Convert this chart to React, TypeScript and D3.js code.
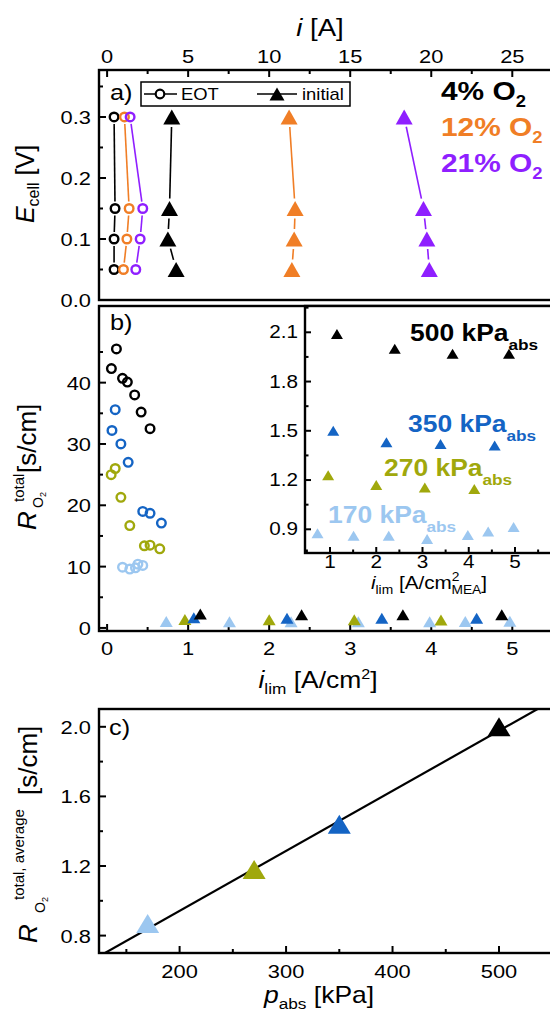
import React from "react";
import * as d3 from "d3";

const FONT = "'Liberation Sans', Arial, Helvetica, sans-serif";
const SX = 1.15;

// ---------- colours ----------
const C_BLACK = "#000000";
const C_ORANGE = "#F07E26";
const C_PURPLE = "#8F1FFF";
const C_BLUE = "#1464C4";
const C_OLIVE = "#A0A80C";
const C_LBLUE = "#9CC7F0";

// ---------- panel a data ----------
const ecellV = [0.3, 0.15, 0.1, 0.05];
const eotI4 = [0.43, 0.49, 0.43, 0.43];
const eotI12 = [1.07, 1.36, 1.22, 1.01];
const eotI21 = [1.42, 2.2, 2.04, 1.77];
const initI4 = [3.99, 3.85, 3.75, 4.26];
const initI12 = [11.23, 11.6, 11.54, 11.4];
const initI21 = [18.33, 19.52, 19.73, 19.88];
const aTopTicks = [0, 5, 10, 15, 20, 25];
const aYTicks = [0.0, 0.1, 0.2, 0.3];
const o2Labels = ["4%", "12%", "21%"];

// ---------- panel b data (EOT circles) ----------
const eot500I = [0.115, 0.053, 0.19, 0.25, 0.34, 0.42, 0.53];
const eot500R = [45.5, 42.3, 40.7, 40.1, 38.0, 35.2, 32.5];
const eot350I = [0.1, 0.06, 0.17, 0.26, 0.44, 0.53, 0.67];
const eot350R = [35.6, 32.2, 30.0, 27.0, 19.0, 18.7, 17.1];
const eot270I = [0.05, 0.1, 0.17, 0.28, 0.46, 0.53, 0.65];
const eot270R = [25.0, 26.0, 21.3, 16.7, 13.4, 13.5, 12.9];
const eot170I = [0.19, 0.28, 0.35, 0.38, 0.44];
const eot170R = [9.9, 9.6, 9.8, 10.4, 10.2];

// ---------- panel b data (initial triangles) ----------
const init500I = [1.15, 2.4, 3.65, 4.87];
const init500R = [2.09, 2.0, 1.97, 1.97];
const init350I = [1.07, 2.22, 3.39, 4.56];
const init350R = [1.5, 1.43, 1.42, 1.41];
const init270I = [0.96, 2.0, 3.05, 4.12];
const init270R = [1.23, 1.17, 1.155, 1.145];
const init170I = [0.73, 1.51, 2.27, 3.1, 3.98, 4.42, 4.97];
const init170R = [0.876, 0.86, 0.86, 0.841, 0.865, 0.886, 0.914];
const bXTicks = [0, 1, 2, 3, 4, 5];
const bYTicks = [0, 10, 20, 30, 40];
const insetXTicks = [1, 2, 3, 4, 5];
const insetYTicks = [0.9, 1.2, 1.5, 1.8, 2.1];
const pressureLabels = ["500", "350", "270", "170"];

// ---------- panel c data ----------
const pAbs = [170, 270, 350, 500];
const rAvg = [0.87, 1.18, 1.44, 2.0];
const fitSlope = 0.00345;
const fitIntercept = 0.252;
const cXTicks = [200, 300, 400, 500];
const cYTicks = [0.8, 1.2, 1.6, 2.0];

// ---------- layout ----------
const L = 99;
const R = 553;
const A_TOP = 70, A_BOT = 300;
const B_TOP = 306, B_BOT = 631;
const IN_L = 305, IN_BOT = 553;
const C_TOP = 709, C_BOT = 953;

const xA = d3.scaleLinear().domain([-0.5, 27.45]).range([L, R - 1]);
const yA = d3.scaleLinear().domain([0, 0.377]).range([A_BOT, A_TOP]);
const xB = d3.scaleLinear().domain([-0.1, 5.49]).range([L, R - 1]);
const yB = d3.scaleLinear().domain([-0.5, 52.5]).range([B_BOT, B_TOP]);
const xIn = d3.scaleLinear().domain([1, 5]).range([330, 515]);
const yIn = d3.scaleLinear().domain([0.9, 2.1]).range([529.3, 332.3]);
const xC = d3.scaleLinear().domain([200, 500]).range([179.6, 499]);
const yC = d3.scaleLinear().domain([0.8, 2.0]).range([935.6, 726.8]);

const tri = (cx: number, cy: number, w: number, h: number) =>
  `M${cx},${cy - h / 2}L${cx + w / 2},${cy + h / 2}L${cx - w / 2},${cy + h / 2}Z`;

function T(props: any) {
  const { x, y, size = 19, weight = "normal", fill = "#000", anchor = "start", rotate, style, children } = props;
  const sx = props.sx ?? SX;
  return (
    <text
      transform={`translate(${x},${y}) scale(${sx},1)${rotate ? ` rotate(${rotate})` : ""}`}
      fontSize={size}
      fontWeight={weight}
      fill={fill}
      textAnchor={anchor}
      fontFamily={FONT}
      fontStyle={style}
    >
      {children}
    </text>
  );
}

function gapLines(pts: [number, number][], gap: number, color: string, key: string) {
  const out: any[] = [];
  for (let i = 0; i < pts.length - 1; i++) {
    const [x1, y1] = pts[i];
    const [x2, y2] = pts[i + 1];
    const dx = x2 - x1, dy = y2 - y1;
    const len = Math.hypot(dx, dy);
    if (len <= 2 * gap) continue;
    const ux = dx / len, uy = dy / len;
    out.push(
      <line key={`${key}-${i}`} x1={x1 + ux * gap} y1={y1 + uy * gap} x2={x2 - ux * gap} y2={y2 - uy * gap}
        stroke={color} strokeWidth={1.6} />
    );
  }
  return out;
}

const AX = 2.4;

export default function App() {
  const eotSets = [
    { i: eotI4, c: C_BLACK },
    { i: eotI12, c: C_ORANGE },
    { i: eotI21, c: C_PURPLE },
  ];
  const initSets = [
    { i: initI4, c: C_BLACK },
    { i: initI12, c: C_ORANGE },
    { i: initI21, c: C_PURPLE },
  ];
  const bEot = [
    { i: eot500I, r: eot500R, c: C_BLACK },
    { i: eot350I, r: eot350R, c: C_BLUE },
    { i: eot270I, r: eot270R, c: C_OLIVE },
    { i: eot170I, r: eot170R, c: C_LBLUE },
  ];
  const bInit = [
    { i: init170I, r: init170R, c: C_LBLUE },
    { i: init270I, r: init270R, c: C_OLIVE },
    { i: init350I, r: init350R, c: C_BLUE },
    { i: init500I, r: init500R, c: C_BLACK },
  ];
  const cColors = [C_LBLUE, C_OLIVE, C_BLUE, C_BLACK];
  const pColors = [C_BLACK, C_BLUE, C_OLIVE, C_LBLUE];
  const pLabelPos = [
    { x: 410, y: 341 },
    { x: 408, y: 432 },
    { x: 384, y: 476 },
    { x: 328, y: 523 },
  ];
  const o2Colors = [C_BLACK, C_ORANGE, C_PURPLE];
  const o2Y = [100, 136, 172];

  const minorA = d3.range(2.5, 27.5, 5);
  const minorAY = d3.range(0.05, 0.37, 0.1);
  const minorBX = d3.range(0.5, 5.5, 1);
  const minorBY = d3.range(5, 52, 10);
  const minorInX = [0.5, 1.5, 2.5, 3.5, 4.5, 5.5];
  const minorInY = [1.05, 1.35, 1.65, 1.95, 2.25];
  const minorCX = [150, 250, 350, 450, 550];
  const minorCY = [1.0, 1.4, 1.8];

  const fitX0 = 124, fitX1 = 550;

  return (
    <svg width={550} height={1012} style={{ position: "absolute", left: 0, top: 0 }} fontFamily={FONT}>
      <rect x={0} y={0} width={550} height={1012} fill="#fff" />

      {/* ================= PANEL A ================= */}
      <T x={320} y={36} size={24} anchor="middle"><tspan fontStyle="italic">i</tspan> [A]</T>
      {aTopTicks.map((t) => (
        <g key={`at${t}`}>
          <line x1={xA(t)} x2={xA(t)} y1={A_TOP} y2={A_TOP + 7} stroke="#000" strokeWidth={2} />
          <T x={xA(t)} y={63} anchor="middle">{t}</T>
        </g>
      ))}
      {minorA.map((t) => (
        <line key={`am${t}`} x1={xA(t)} x2={xA(t)} y1={A_TOP} y2={A_TOP + 4} stroke="#000" strokeWidth={2} />
      ))}
      {aYTicks.map((t) => (
        <g key={`ay${t}`}>
          <line x1={L} x2={L + 7} y1={yA(t)} y2={yA(t)} stroke="#000" strokeWidth={2} />
          <T x={91} y={yA(t) + 7} anchor="end">{t.toFixed(1)}</T>
        </g>
      ))}
      {minorAY.map((t) => (
        <line key={`aym${t}`} x1={L} x2={L + 4} y1={yA(t)} y2={yA(t)} stroke="#000" strokeWidth={2} />
      ))}
      <rect x={L} y={A_TOP} width={R - L} height={A_BOT - A_TOP} fill="none" stroke="#000" strokeWidth={AX} />
      <g transform={`translate(34,${184}) rotate(-90)`}>
        <text fontSize={25} textAnchor="middle" fontFamily={FONT}>
          <tspan fontStyle="italic">E</tspan>
          <tspan fontSize={16} dy={5}>cell</tspan>
          <tspan dy={-5}> [V]</tspan>
        </text>
      </g>
      <T x={110} y={100} size={22}>a)</T>
      {/* legend */}
      <rect x={141} y={82} width={209} height={24} fill="#fff" stroke="#000" strokeWidth={1.5} />
      <line x1={144} x2={177} y1={94} y2={94} stroke="#000" strokeWidth={1.6} />
      <circle cx={160} cy={94} r={4.3} fill="#fff" stroke="#000" strokeWidth={2.2} />
      <T x={181} y={100} size={16}>EOT</T>
      <line x1={257} x2={297} y1={94} y2={94} stroke="#000" strokeWidth={1.6} />
      <path d={tri(277, 94, 15, 13)} fill="#000" />
      <T x={302} y={100} size={16}>initial</T>
      {o2Labels.map((lab, k) => (
        <text key={`o2${k}`} transform={`translate(441,${o2Y[k]}) scale(${SX},1)`} fontSize={26}
          fontWeight="bold" fill={o2Colors[k]} fontFamily={FONT}>
          {lab} O<tspan fontSize={16} dy={7}>2</tspan>
        </text>
      ))}
      {eotSets.map((s, k) => {
        const pts = s.i.map((v, j) => [xA(v), yA(ecellV[j])] as [number, number]);
        return (
          <g key={`eot${k}`}>
            {gapLines(pts, 7, s.c, `el${k}`)}
            {pts.map((p, j) => (
              <circle key={j} cx={p[0]} cy={p[1]} r={4.3} fill="none" stroke={s.c} strokeWidth={2.4} />
            ))}
          </g>
        );
      })}
      {initSets.map((s, k) => {
        const pts = s.i.map((v, j) => [xA(v), yA(ecellV[j])] as [number, number]);
        return (
          <g key={`ini${k}`}>
            {gapLines(pts, 10, s.c, `il${k}`)}
            {pts.map((p, j) => (
              <path key={j} d={tri(p[0], p[1], 17, 15)} fill={s.c} />
            ))}
          </g>
        );
      })}

      {/* ================= PANEL B ================= */}
      {bXTicks.map((t) => (
        <g key={`bx${t}`}>
          <line x1={xB(t)} x2={xB(t)} y1={B_BOT} y2={B_BOT - 7} stroke="#000" strokeWidth={2} />
          <T x={xB(t)} y={655} anchor="middle">{t}</T>
        </g>
      ))}
      {minorBX.map((t) => (
        <line key={`bxm${t}`} x1={xB(t)} x2={xB(t)} y1={B_BOT} y2={B_BOT - 4} stroke="#000" strokeWidth={2} />
      ))}
      {bYTicks.map((t) => (
        <g key={`by${t}`}>
          <line x1={L} x2={L + 7} y1={yB(t)} y2={yB(t)} stroke="#000" strokeWidth={2} />
          <T x={91} y={yB(t) + 7} anchor="end">{t}</T>
        </g>
      ))}
      {minorBY.map((t) => (
        <line key={`bym${t}`} x1={L} x2={L + 4} y1={yB(t)} y2={yB(t)} stroke="#000" strokeWidth={2} />
      ))}
      <rect x={L} y={B_TOP} width={R - L} height={B_BOT - B_TOP} fill="none" stroke="#000" strokeWidth={AX} />
      <T x={110} y={330} size={22}>b)</T>
      <T x={318} y={688} size={23} anchor="middle">
        <tspan fontStyle="italic">i</tspan><tspan fontSize={15} dy={6}>lim</tspan><tspan dy={-6}> [A/cm</tspan>
        <tspan fontSize={14} dy={-9}>2</tspan><tspan dy={9}>]</tspan>
      </T>
      <g transform={`translate(36,${530}) rotate(-90)`}>
        <text fontSize={26} fontFamily={FONT} fontStyle="italic" x={0} y={0}>R</text>
        <text fontSize={15} fontFamily={FONT} x={28} y={-12}>total</text>
        <text fontSize={14} fontFamily={FONT} x={22} y={7}>O<tspan fontSize={9} dy={3}>2</tspan></text>
        <text fontSize={26} fontFamily={FONT} x={57} y={0}>[s/cm]</text>
      </g>
      {bEot.map((s, k) => (
        <g key={`be${k}`}>
          {s.i.map((v, j) => (
            <circle key={j} cx={xB(v)} cy={yB(s.r[j])} r={4.3} fill="none" stroke={s.c} strokeWidth={2.4} />
          ))}
        </g>
      ))}
      {bInit.map((s, k) => (
        <g key={`bi${k}`}>
          {s.i.map((v, j) => (
            <path key={j} d={tri(xB(v), yB(s.r[j]) - 1, 13, 11)} fill={s.c} />
          ))}
        </g>
      ))}

      {/* inset */}
      <rect x={IN_L} y={B_TOP} width={R - IN_L} height={IN_BOT - B_TOP} fill="#fff" stroke="#000" strokeWidth={AX} />
      {insetXTicks.map((t) => (
        <g key={`ix${t}`}>
          <line x1={xIn(t)} x2={xIn(t)} y1={IN_BOT} y2={IN_BOT - 6} stroke="#000" strokeWidth={2} />
          <T x={xIn(t)} y={568} anchor="middle" size={18}>{t}</T>
        </g>
      ))}
      {minorInX.map((t) => (
        <line key={`ixm${t}`} x1={xIn(t)} x2={xIn(t)} y1={IN_BOT} y2={IN_BOT - 3.5} stroke="#000" strokeWidth={2} />
      ))}
      {insetYTicks.map((t) => (
        <g key={`iy${t}`}>
          <line x1={IN_L} x2={IN_L + 6} y1={yIn(t)} y2={yIn(t)} stroke="#000" strokeWidth={2} />
          <T x={298} y={yIn(t) + 6} anchor="end" size={18}>{t.toFixed(1)}</T>
        </g>
      ))}
      {minorInY.map((t) => (
        <line key={`iym${t}`} x1={IN_L} x2={IN_L + 3.5} y1={yIn(t)} y2={yIn(t)} stroke="#000" strokeWidth={2} />
      ))}
      <T x={429} y={589} size={18} anchor="middle">
        <tspan fontStyle="italic">i</tspan><tspan fontSize={12} dy={5}>lim</tspan><tspan dy={-5}> [A/cm</tspan>
        <tspan fontSize={12} dy={-8}>2</tspan><tspan fontSize={12} dx={-7} dy={13}>MEA</tspan><tspan dy={-5}>]</tspan>
      </T>
      {bInit.map((s, k) => (
        <g key={`ii${k}`}>
          {s.i.map((v, j) => (
            <path key={j} d={tri(xIn(v), yIn(s.r[j]), 12, 10)} fill={s.c} />
          ))}
        </g>
      ))}
      {pressureLabels.map((lab, k) => (
        <text key={`pl${k}`} transform={`translate(${pLabelPos[k].x},${pLabelPos[k].y}) scale(${SX},1)`}
          fontSize={23} fontWeight="bold" fill={pColors[k]} fontFamily={FONT}>
          {lab} kPa<tspan fontSize={15} dy={9}>abs</tspan>
        </text>
      ))}

      {/* ================= PANEL C ================= */}
      {cXTicks.map((t) => (
        <g key={`cx${t}`}>
          <line x1={xC(t)} x2={xC(t)} y1={C_BOT} y2={C_BOT - 7} stroke="#000" strokeWidth={2} />
          <T x={xC(t)} y={978} anchor="middle">{t}</T>
        </g>
      ))}
      {minorCX.map((t) => (
        <line key={`cxm${t}`} x1={xC(t)} x2={xC(t)} y1={C_BOT} y2={C_BOT - 4} stroke="#000" strokeWidth={2} />
      ))}
      {cYTicks.map((t) => (
        <g key={`cy${t}`}>
          <line x1={L} x2={L + 7} y1={yC(t)} y2={yC(t)} stroke="#000" strokeWidth={2} />
          <T x={91} y={yC(t) + 7} anchor="end">{t.toFixed(1)}</T>
        </g>
      ))}
      {minorCY.map((t) => (
        <line key={`cym${t}`} x1={L} x2={L + 4} y1={yC(t)} y2={yC(t)} stroke="#000" strokeWidth={2} />
      ))}
      <defs>
        <clipPath id="clipC">
          <rect x={L} y={C_TOP} width={R - L} height={C_BOT - C_TOP} />
        </clipPath>
      </defs>
      <line clipPath="url(#clipC)" x1={xC(fitX0)} y1={yC(fitIntercept + fitSlope * fitX0)}
        x2={xC(fitX1)} y2={yC(fitIntercept + fitSlope * fitX1)} stroke="#000" strokeWidth={2.2} />
      {pAbs.map((p, k) => (
        <path key={`ct${k}`} d={tri(xC(p), yC(rAvg[k]), 23, 19)} fill={cColors[k]} />
      ))}
      <rect x={L} y={C_TOP} width={R - L} height={C_BOT - C_TOP} fill="none" stroke="#000" strokeWidth={AX} />
      <T x={109} y={735} size={22}>c)</T>
      <T x={319} y={1003} size={23} anchor="middle">
        <tspan fontStyle="italic">p</tspan><tspan fontSize={15} dy={6}>abs</tspan><tspan dy={-6}> [kPa]</tspan>
      </T>
      <g transform={`translate(37,${943}) rotate(-90)`}>
        <text fontSize={26} fontFamily={FONT} fontStyle="italic" x={0} y={0}>R</text>
        <text fontSize={15} fontFamily={FONT} x={43} y={-13}>total, average</text>
        <text fontSize={14} fontFamily={FONT} x={30} y={8}>O<tspan fontSize={9} dy={3}>2</tspan></text>
        <text fontSize={26} fontFamily={FONT} x={148} y={0}>[s/cm]</text>
      </g>
    </svg>
  );
}
